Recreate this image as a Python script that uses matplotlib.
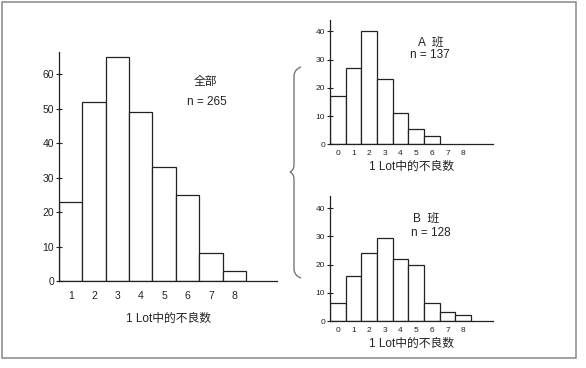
import matplotlib
matplotlib.use("Agg")
import matplotlib.pyplot as plt
from matplotlib.patches import Rectangle, PathPatch
from matplotlib.path import Path

plt.rcParams['font.family'] = ['Liberation Sans', 'Noto Sans CJK SC', 'DejaVu Sans']

# data
all_x = [1, 2, 3, 4, 5, 6, 7, 8]
all_counts = [23, 52, 65, 49, 33, 25, 8, 3]

a_x = [0, 1, 2, 3, 4, 5, 6]
a_counts = [17, 27, 40, 23, 11, 5.5, 3]

b_x = [0, 1, 2, 3, 4, 5, 6, 7, 8]
b_counts = [6.5, 16, 24, 29.5, 22, 20, 6.5, 3.3, 2]

xlabel_text = '1 Lot中的不良数'
W, H = 586, 368

fig = plt.figure(figsize=(W / 100, H / 100), dpi=100)
fig.patch.set_facecolor('white')


def px_box(left, top, right, bottom):
    # pixel box -> figure fraction [l, b, w, h]
    return [left / W, 1 - bottom / H, (right - left) / W, (bottom - top) / H]


def style_axes(ax, tick_fs):
    for s in ['top', 'right']:
        ax.spines[s].set_visible(False)
    for s in ['left', 'bottom']:
        ax.spines[s].set_linewidth(0.9)
        ax.spines[s].set_color('#222222')
    ax.tick_params(axis='y', direction='inout', length=5, width=0.8,
                   labelsize=tick_fs, colors='#222222', pad=1)
    ax.tick_params(axis='x', length=0, labelsize=tick_fs, colors='#222222')


# main chart (all)
ax = fig.add_axes(px_box(59, 52, 277, 281))
ax.bar(all_x, all_counts, width=1.0, color='white', edgecolor='#222222', linewidth=0.9)
ax.set_xlim(0.5, 9.83)
ax.set_ylim(0, 66.5)
ax.set_yticks([0, 10, 20, 30, 40, 50, 60])
ax.set_xticks(all_x)
style_axes(ax, 7.5)
ax.tick_params(axis='x', pad=7)
ax.set_xlabel(xlabel_text, fontsize=8.5, color='#222222', labelpad=9)
ax.text(0.67, 0.87, '全部', transform=ax.transAxes, fontsize=8.5, ha='center', va='center', color='#222222')
ax.text(0.677, 0.783, 'n = 265', transform=ax.transAxes, fontsize=8.5, ha='center', va='center', color='#222222')

# class A
axa = fig.add_axes(px_box(330, 20, 493, 144.3))
axa.bar(a_x, a_counts, width=1.0, color='white', edgecolor='#222222', linewidth=0.9)
axa.set_xlim(-0.5, 9.9)
axa.set_ylim(0, 44)
axa.set_yticks([0, 10, 20, 30, 40])
axa.set_xticks([0, 1, 2, 3, 4, 5, 6, 7, 8])
style_axes(axa, 6)
axa.tick_params(axis='x', pad=4)
axa.set_xticks([7, 8], minor=True)
axa.tick_params(axis='x', which='minor', direction='in', length=4, width=0.8, color='#444444')
axa.set_xlabel(xlabel_text, fontsize=8.5, color='#222222', labelpad=3)
axa.text(0.62, 0.817, 'A  班', transform=axa.transAxes, fontsize=8.5, ha='center', va='center', color='#222222')
axa.text(0.61, 0.718, 'n = 137', transform=axa.transAxes, fontsize=8.5, ha='center', va='center', color='#222222')

# class B
axb = fig.add_axes(px_box(330, 196, 493, 321))
axb.bar(b_x, b_counts, width=1.0, color='white', edgecolor='#222222', linewidth=0.9)
axb.set_xlim(-0.5, 9.9)
axb.set_ylim(0, 44.3)
axb.set_yticks([0, 10, 20, 30, 40])
axb.set_xticks(b_x)
style_axes(axb, 6)
axb.tick_params(axis='x', pad=4)
axb.set_xlabel(xlabel_text, fontsize=8.5, color='#222222', labelpad=3)
axb.text(0.59, 0.82, 'B  班', transform=axb.transAxes, fontsize=8.5, ha='center', va='center', color='#222222')
axb.text(0.62, 0.706, 'n = 128', transform=axb.transAxes, fontsize=8.5, ha='center', va='center', color='#222222')


# curly brace between the charts (pixel coordinates -> figure fraction)
def fpt(x, y):
    return (x / W, 1 - y / H)


verts = [fpt(301, 67), fpt(295, 69), fpt(294, 75),
         fpt(294, 165),
         fpt(294, 170), fpt(290, 172),
         fpt(294, 174), fpt(294, 179),
         fpt(294, 270),
         fpt(295, 276), fpt(301, 278)]
codes = [Path.MOVETO, Path.CURVE3, Path.CURVE3,
         Path.LINETO,
         Path.CURVE3, Path.CURVE3,
         Path.CURVE3, Path.CURVE3,
         Path.LINETO,
         Path.CURVE3, Path.CURVE3]
fig.patches.append(PathPatch(Path(verts, codes), transform=fig.transFigure,
                             facecolor='none', edgecolor='#777777', linewidth=1.0))

# outer frame
fig.patches.append(Rectangle((2 / W, 1 - 358 / H), 574 / W, 356 / H, transform=fig.transFigure,
                             facecolor='none', edgecolor='#888888', linewidth=1.1))

fig.savefig('out.png', dpi=100)
